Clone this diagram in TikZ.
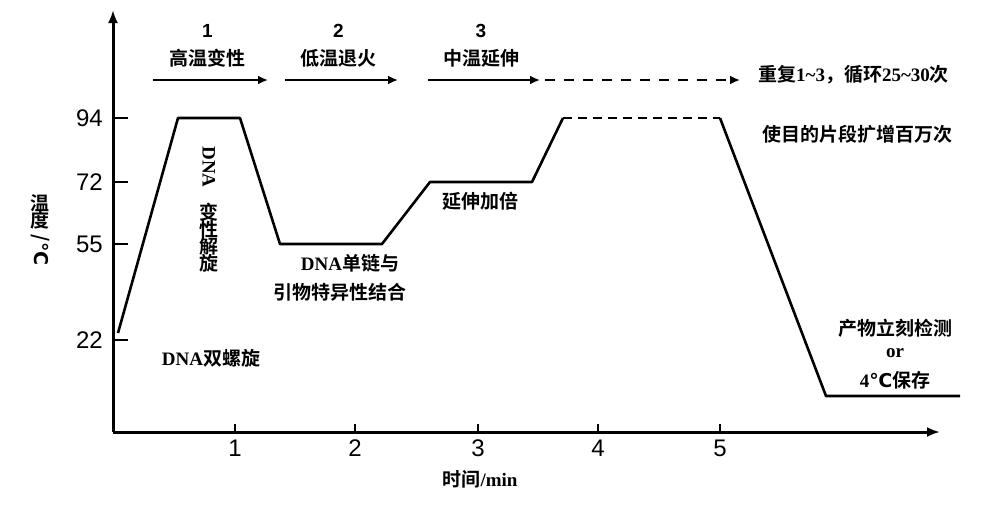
\documentclass[tikz,border=0pt]{standalone}
\usetikzlibrary{arrows.meta}
\usepackage{fontspec}
\setmainfont{Liberation Serif}
\newfontfamily\cjk{Noto Sans CJK SC}[BoldFont={* Bold}]
\newfontfamily\sans{Liberation Sans}
\newfontfamily\dejavu{DejaVu Sans}
\begin{document}
\begin{tikzpicture}[x=1pt,y=-1pt,
  lab/.style={font=\cjk\bfseries\fontsize{19}{21}\selectfont,inner sep=0},
  tick/.style={font=\sans\fontsize{24}{26}\selectfont,inner sep=0},
  num/.style={font=\sans\bfseries\fontsize{19}{21}\selectfont,inner sep=0},
  curve/.style={line width=2.6pt,line join=round},
  sarrow/.style={line width=2pt,-{Latex[length=10pt,width=9pt]}}]
\useasboundingbox (0,0) rectangle (997,504);
% axes
\coordinate (O) at (113,432);
\coordinate (Ytop) at (113,10);
\coordinate (Xend) at (940,432);
\draw[line width=3pt,-{Latex[length=13pt,width=10pt]}] (O) -- (Ytop);
\draw[line width=3pt,-{Latex[length=13pt,width=10pt]}] (O) -- (Xend);
% y ticks
\foreach \v/\y in {94/118,72/182,55/244,22/340}{
  \draw[line width=1.2pt] (113,\y) -- (128,\y);
  \node[tick,anchor=east] at (103,\y) {\v};}
% x ticks
\foreach \v/\x in {1/235,2/355,3/478,4/598,5/720}{
  \draw[line width=1.5pt] (\x,432) -- (\x,424);
  \node[tick] at (\x,448) {\v};}
\node[lab] (xl) at (480,479) {时间\rmfamily/min};
\node[lab,align=center] (yl) at (40,212) {温\\[-4pt]度};
\node[lab,rotate=-90] (yl2) at (40,250) {/\dejavu ℃};
% curve
\draw[curve] (118,333) -- (178,118) -- (240,118) -- (280,244) -- (382,244) -- (430,182) -- (532,182) -- (563,118);
\draw[curve,dash pattern=on 9pt off 6pt] (563,118) -- (720,118);
\draw[curve] (720,118) -- (826,396) -- (960,396);
% top arrows
\foreach \n/\a/\b/\t in {1/153/268/高温变性,2/285/398/低温退火,3/428/540/中温延伸}{
  \draw[sarrow] (\a,80) -- (\b,80);
  \node[num] at ({(\a+\b)/2-3},31) {\n};
  \node[lab] at ({(\a+\b)/2-3},58) {\t};}
\draw[line width=2pt,dash pattern=on 10pt off 9pt,-{Latex[length=10pt,width=9pt]}] (545,80) -- (740,80);
\node[lab,anchor=west] (r1) at (758,75) {重复\rmfamily 1\textasciitilde3\cjk，循环\rmfamily 25\textasciitilde30\cjk 次};
\node[lab,anchor=west] (r2) at (762,134) {使目的片段扩增百万次};
\node[lab] (t1) at (480,201) {延伸加倍};
\node[lab] (t2) at (350,263) {\rmfamily DNA\cjk 单链与};
\node[lab] (t3) at (340,292) {引物特异性结合};
\node[lab] (t4) at (211,358) {\rmfamily DNA\cjk 双螺旋};
\node[lab,rotate=-90] (v1) at (209,167) {\rmfamily DNA};
\node[lab,align=center] (v2) at (209,238) {变\\[-4pt]性\\[-4pt]解\\[-4pt]旋};
\node[lab] (p1) at (895,328) {产物立刻检测};
\node[lab] (p2) at (895,353) {\rmfamily or};
\node[lab] (p3) at (895,380) {\rmfamily 4\dejavu ℃\cjk 保存};
\end{tikzpicture}
\end{document}
